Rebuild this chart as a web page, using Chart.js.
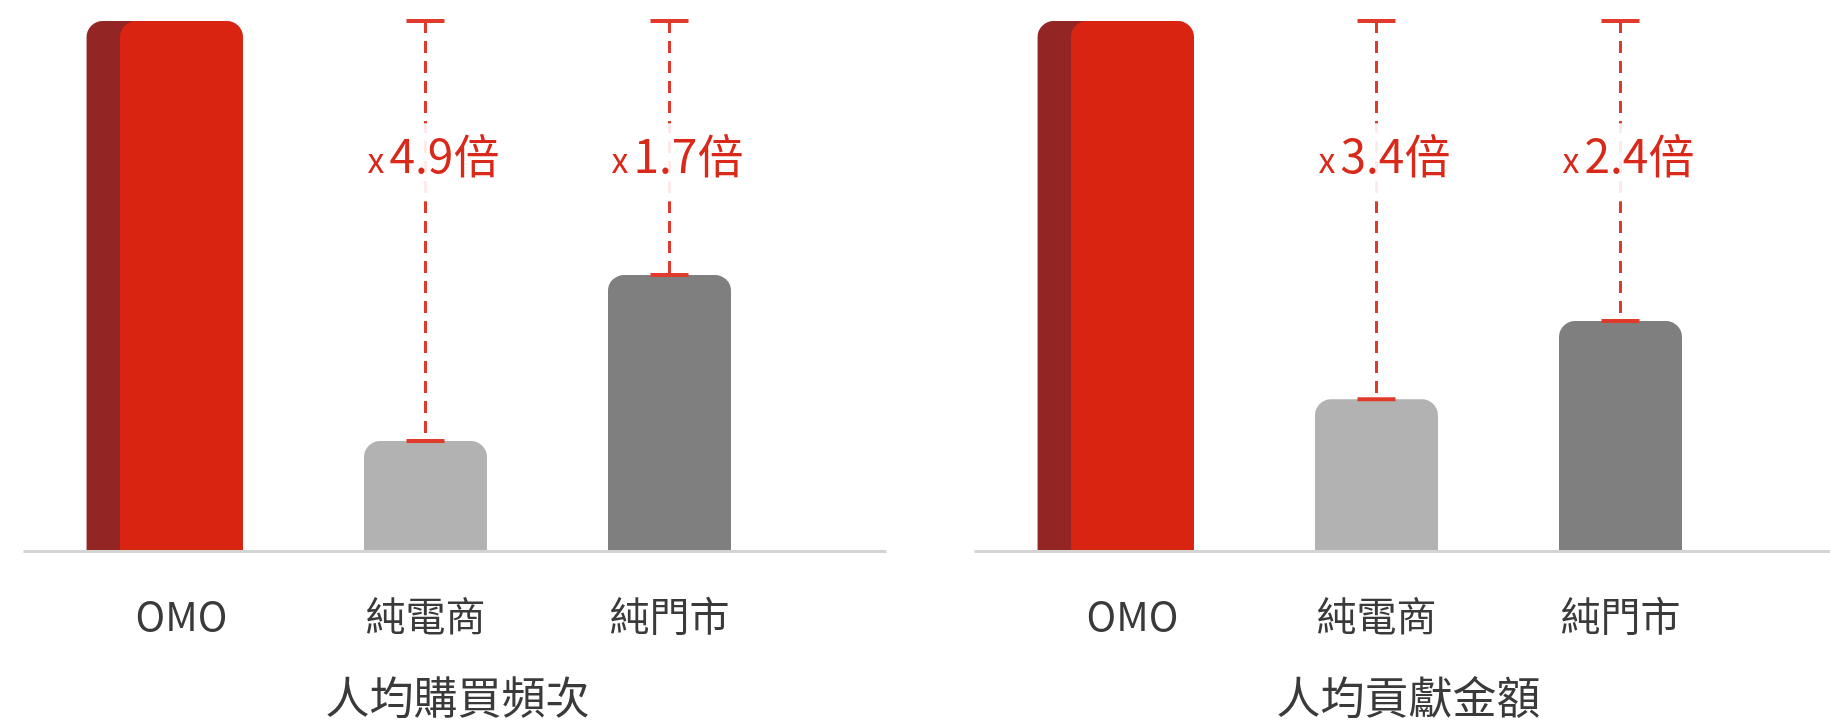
<!DOCTYPE html>
<html lang="zh-Hant">
<head>
<meta charset="utf-8">
<script src="https://cdn.jsdelivr.net/npm/chart.js@4.4.1/dist/chart.umd.min.js"></script>
<style>
  html, body { margin: 0; padding: 0; background: #fff; overflow: hidden; }
  body { width: 1830px; height: 721px; position: relative; }
  canvas { position: absolute; top: 0; }
  #freq-chart  { left: 0; }
  #spend-chart { left: 951px; }
</style>
</head>
<body>
<canvas id="freq-chart" width="915" height="721"></canvas>
<canvas id="spend-chart" width="915" height="721"></canvas>
<script>
// ── Data ──────────────────────────────────────────────────────────────────────
const categories     = ['OMO', '純電商', '純門市'];

const freqTitle      = '人均購買頻次';
const freqValues     = [100, 20.6, 52.0];   // bar heights, OMO = 100
const freqMultiples  = [null, 4.9, 1.7];    // OMO vs each channel

const spendTitle     = '人均貢獻金額';
const spendValues    = [100, 28.5, 43.3];
const spendMultiples = [null, 3.4, 2.4];

// ── Styles ────────────────────────────────────────────────────────────────────
const FONT       = '"Noto Sans CJK TC", "Noto Sans CJK SC", "Noto Sans", sans-serif';
const RED        = '#da2412';
const RED_DARK   = '#932624';
const GRAY_LIGHT = '#b2b2b2';
const GRAY_DARK  = '#7f7f7f';
const LINE_RED   = '#e03a2c';
const TEXT_RED   = '#d9291a';
const TEXT_DARK  = '#3a3a3a';

// shift the dark "side face" of the OMO bar to the left of the red face
const depthShift = {
  id: 'depthShift',
  afterDatasetsUpdate(chart) {
    chart.getDatasetMeta(1).data.forEach(el => { el.x -= el.width * 0.272; });
  }
};

// light grey baseline, a bit wider than the plot area
const baseLine = {
  id: 'baseLine',
  beforeDatasetsDraw(chart) {
    const { ctx, chartArea } = chart;
    ctx.save();
    ctx.strokeStyle = '#d4d4d4';
    ctx.lineWidth = 3;
    ctx.beginPath();
    ctx.moveTo(chartArea.left - 36, chartArea.bottom + 1.5);
    ctx.lineTo(chartArea.right + 95, chartArea.bottom + 1.5);
    ctx.stroke();
    ctx.restore();
  }
};

// dashed "x N倍" markers from OMO level down to each channel bar
const multiplierMarks = {
  id: 'multiplierMarks',
  afterDatasetsDraw(chart, args, opts) {
    const { ctx, scales: { y } } = chart;
    const bars   = chart.getDatasetMeta(0).data;
    const topY   = y.getPixelForValue(chart.data.datasets[0].data[0]);
    const labelY = y.getPixelForValue(opts.labelLevel);

    opts.multiples.forEach((m, i) => {
      if (m == null) return;
      const x = bars[i].x, barY = bars[i].y;
      ctx.save();
      ctx.strokeStyle = LINE_RED;
      ctx.lineWidth = 3;
      ctx.setLineDash([12, 8]);
      ctx.beginPath();
      ctx.moveTo(x, topY);
      ctx.lineTo(x, barY);
      ctx.stroke();

      ctx.setLineDash([]);
      ctx.lineWidth = 4;
      [topY, barY].forEach(cy => {
        ctx.beginPath();
        ctx.moveTo(x - 19, cy);
        ctx.lineTo(x + 19, cy);
        ctx.stroke();
      });

      const big = m.toFixed(1) + '倍';
      ctx.font = `34px ${FONT}`;
      const wx = ctx.measureText('x').width;
      ctx.font = `46px ${FONT}`;
      const wb = ctx.measureText(big).width;
      const gap = 5;
      const w = wx + gap + wb;
      const left = x + 8 - w / 2;

      ctx.fillStyle = 'rgba(255,255,255,0.9)';
      ctx.fillRect(left - 4, labelY - 50, w + 8, 78);

      ctx.fillStyle = TEXT_RED;
      ctx.textBaseline = 'alphabetic';
      ctx.textAlign = 'left';
      ctx.font = `34px ${FONT}`;
      ctx.fillText('x', left, labelY);
      ctx.font = `46px ${FONT}`;
      ctx.fillText(big, left + wx + gap, labelY);
      ctx.restore();
    });
  }
};

// invisible side axes reserve the margins, so the title stays centred on the canvas
const spacer = width => ({
  display: true,
  grid:   { display: false, drawTicks: false },
  border: { display: false },
  ticks:  { display: false },
  afterFit: s => { s.width = width; },
});

function makeChart(canvasId, title, values, multiples) {
  const ctx = document.getElementById(canvasId).getContext('2d');
  return new Chart(ctx, {
    type: 'bar',
    data: {
      labels: categories,
      datasets: [
        {
          data: values,
          backgroundColor: [RED, GRAY_LIGHT, GRAY_DARK],
          order: 1,
        },
        {
          data: values.map((v, i) => (i === 0 ? v : null)),
          backgroundColor: RED_DARK,
          order: 2,
        }
      ]
    },
    options: {
      responsive: false,
      animation: false,
      layout: { padding: { left: 0, right: 0, top: 21, bottom: 0 } },
      datasets: {
        bar: {
          grouped: false,
          barPercentage: 0.504,
          categoryPercentage: 1,
          borderRadius: 16,
          borderSkipped: 'start',
        }
      },
      plugins: {
        legend:  { display: false },
        tooltip: { enabled: false },
        title: {
          display: true,
          position: 'bottom',
          text: title,
          color: TEXT_DARK,
          font: { family: FONT, size: 44, weight: 'normal', lineHeight: 1.1 },
          padding: 0,
        },
        multiplierMarks: { multiples, labelLevel: 71.2 },
      },
      scales: {
        x: {
          grid:   { display: false, drawTicks: false },
          border: { display: false },
          ticks:  {
            padding: 42,
            color: TEXT_DARK,
            font: { family: FONT, size: 40 },
            maxRotation: 0,
            autoSkip: false,
          },
          afterFit: s => { s.height = 122.6; },
        },
        y:      { ...spacer(59.5), position: 'left', min: 0, max: 100 },
        yRight: { ...spacer(123.5), position: 'right' },
      }
    },
    plugins: [depthShift, baseLine, multiplierMarks]
  });
}

makeChart('freq-chart',  freqTitle,  freqValues,  freqMultiples);
makeChart('spend-chart', spendTitle, spendValues, spendMultiples);
</script>
</body>
</html>
